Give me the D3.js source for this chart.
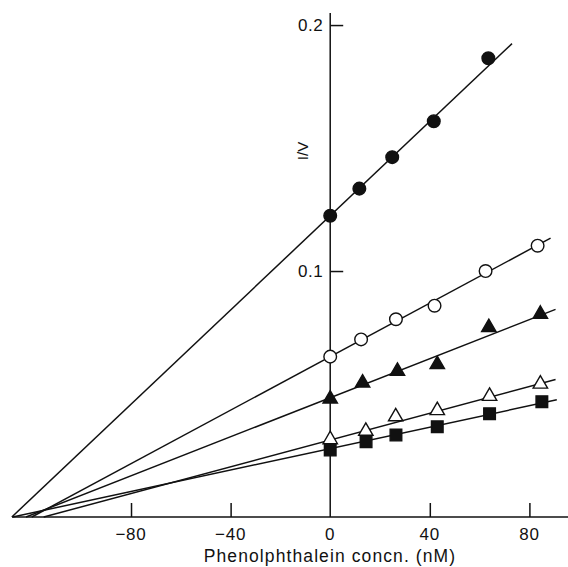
<!DOCTYPE html>
<html><head><meta charset="utf-8">
<script src="https://cdn.jsdelivr.net/npm/d3@7"></script>
<style>body{margin:0;background:#fff}svg{display:block}text{font-family:"Liberation Sans",Arial,sans-serif;fill:#111}</style>
</head><body>
<script>
// Data
const xTicks = [-80, -40, 0, 40, 80];
const yTicks = [0.1, 0.2];
const seriesNames = ["filledCircle", "openCircle", "filledTriangle", "openTriangle", "filledSquare"];
const filledCircleX = [0, 11.7, 24.9, 41.6, 63.5];
const filledCircleY = [0.1225, 0.1335, 0.1463, 0.1609, 0.1865];
const openCircleX = [0, 12.4, 26.4, 41.9, 62.4, 83.3];
const openCircleY = [0.0652, 0.0722, 0.0804, 0.0859, 0.1000, 0.1103];
const filledTriangleX = [0, 13, 27, 43, 63.7, 84.4];
const filledTriangleY = [0.0480, 0.0545, 0.0593, 0.0620, 0.0771, 0.0825];
const openTriangleX = [0, 14.3, 26.3, 43, 64, 84.4];
const openTriangleY = [0.0315, 0.0349, 0.0408, 0.0433, 0.0491, 0.0541];
const filledSquareX = [0, 14.4, 26.4, 43, 64, 85];
const filledSquareY = [0.0272, 0.0306, 0.0333, 0.0367, 0.0420, 0.0469];
// fitted lines: intercept at x=0, slope, x end
const lineIntercept = [0.1225, 0.0652, 0.0485, 0.0313, 0.0278];
const lineSlope = [0.000958, 0.000544, 0.000397, 0.000272, 0.000218];
const lineXEnd = [73, 88.5, 90.5, 90.5, 91];

const W = 568, H = 567;
const svg = d3.select("body").append("svg").attr("width", W).attr("height", H);
const x = d3.scaleLinear().domain([-127.8, 95.5]).range([12, 568]);
const y = d3.scaleLinear().domain([0, 0.2049]).range([517, 13]);

// lines
seriesNames.forEach((n, i) => {
  const b = lineIntercept[i], m = lineSlope[i];
  const x0 = -b / m;
  svg.append("line")
    .attr("x1", x(x0)).attr("y1", y(0))
    .attr("x2", x(lineXEnd[i])).attr("y2", y(b + m * lineXEnd[i]))
    .attr("stroke", "#111").attr("stroke-width", 1.5);
});

// axes
const xAxis = d3.axisTop(x).tickValues(xTicks.filter(d => d !== 0)).tickSize(14).tickFormat("");
const gx = svg.append("g").attr("transform", `translate(0,${y(0)})`).call(xAxis);
gx.select(".domain").remove();
gx.selectAll("line").attr("stroke", "#111").attr("stroke-width", 1.5);
svg.append("line").attr("x1", 12).attr("x2", 568).attr("y1", y(0)).attr("y2", y(0)).attr("stroke", "#111").attr("stroke-width", 1.5);
svg.selectAll(".xl").data(xTicks).enter().append("text")
  .attr("x", d => x(d)).attr("y", 540).attr("text-anchor", "middle").attr("font-size", 17).attr("letter-spacing", 0.8)
  .text(d => d < 0 ? "\u2212" + Math.abs(d) : d);
svg.append("text").attr("x", 330).attr("y", 562).attr("text-anchor", "middle").attr("font-size", 17.5).attr("letter-spacing", 1.1)
  .text("Phenolphthalein concn. (nM)");

const yAxis = d3.axisRight(y).tickValues(yTicks).tickSize(13).tickFormat("");
const gy = svg.append("g").attr("transform", `translate(${x(0)},0)`).call(yAxis);
gy.select(".domain").remove();
gy.selectAll("line").attr("stroke", "#111").attr("stroke-width", 1.5);
svg.append("line").attr("x1", x(0)).attr("x2", x(0)).attr("y1", 13).attr("y2", y(0)).attr("stroke", "#111").attr("stroke-width", 1.5);
svg.selectAll(".yl").data(yTicks).enter().append("text")
  .attr("x", x(0) - 7).attr("y", d => y(d) + 6).attr("text-anchor", "end").attr("font-size", 17).attr("letter-spacing", 0.5)
  .text(d => d);
svg.append("text").attr("transform", `translate(308,151) rotate(-90)`).attr("text-anchor", "middle").attr("font-size", 15)
  .text("I/V");

// markers
const sets = [
  [filledCircleX, filledCircleY, "circle", true],
  [openCircleX, openCircleY, "circle", false],
  [filledTriangleX, filledTriangleY, "triangle", true],
  [openTriangleX, openTriangleY, "triangle", false],
  [filledSquareX, filledSquareY, "square", true]
];
const sym = {circle: d3.symbolCircle, triangle: d3.symbolTriangle, square: d3.symbolSquare};
const sizes = {circle: 125, triangle: 90, square: 135};
sets.forEach(([xs, ys, shape, filled]) => {
  svg.append("g").selectAll("path").data(xs.map((v, i) => [v, ys[i]])).enter().append("path")
    .attr("d", d3.symbol().type(sym[shape]).size(sizes[shape]))
    .attr("transform", d => `translate(${x(d[0])},${y(d[1])})`)
    .attr("fill", filled ? "#111" : "#fff").attr("stroke", "#111").attr("stroke-width", 1.4);
});
</script>
</body></html>
